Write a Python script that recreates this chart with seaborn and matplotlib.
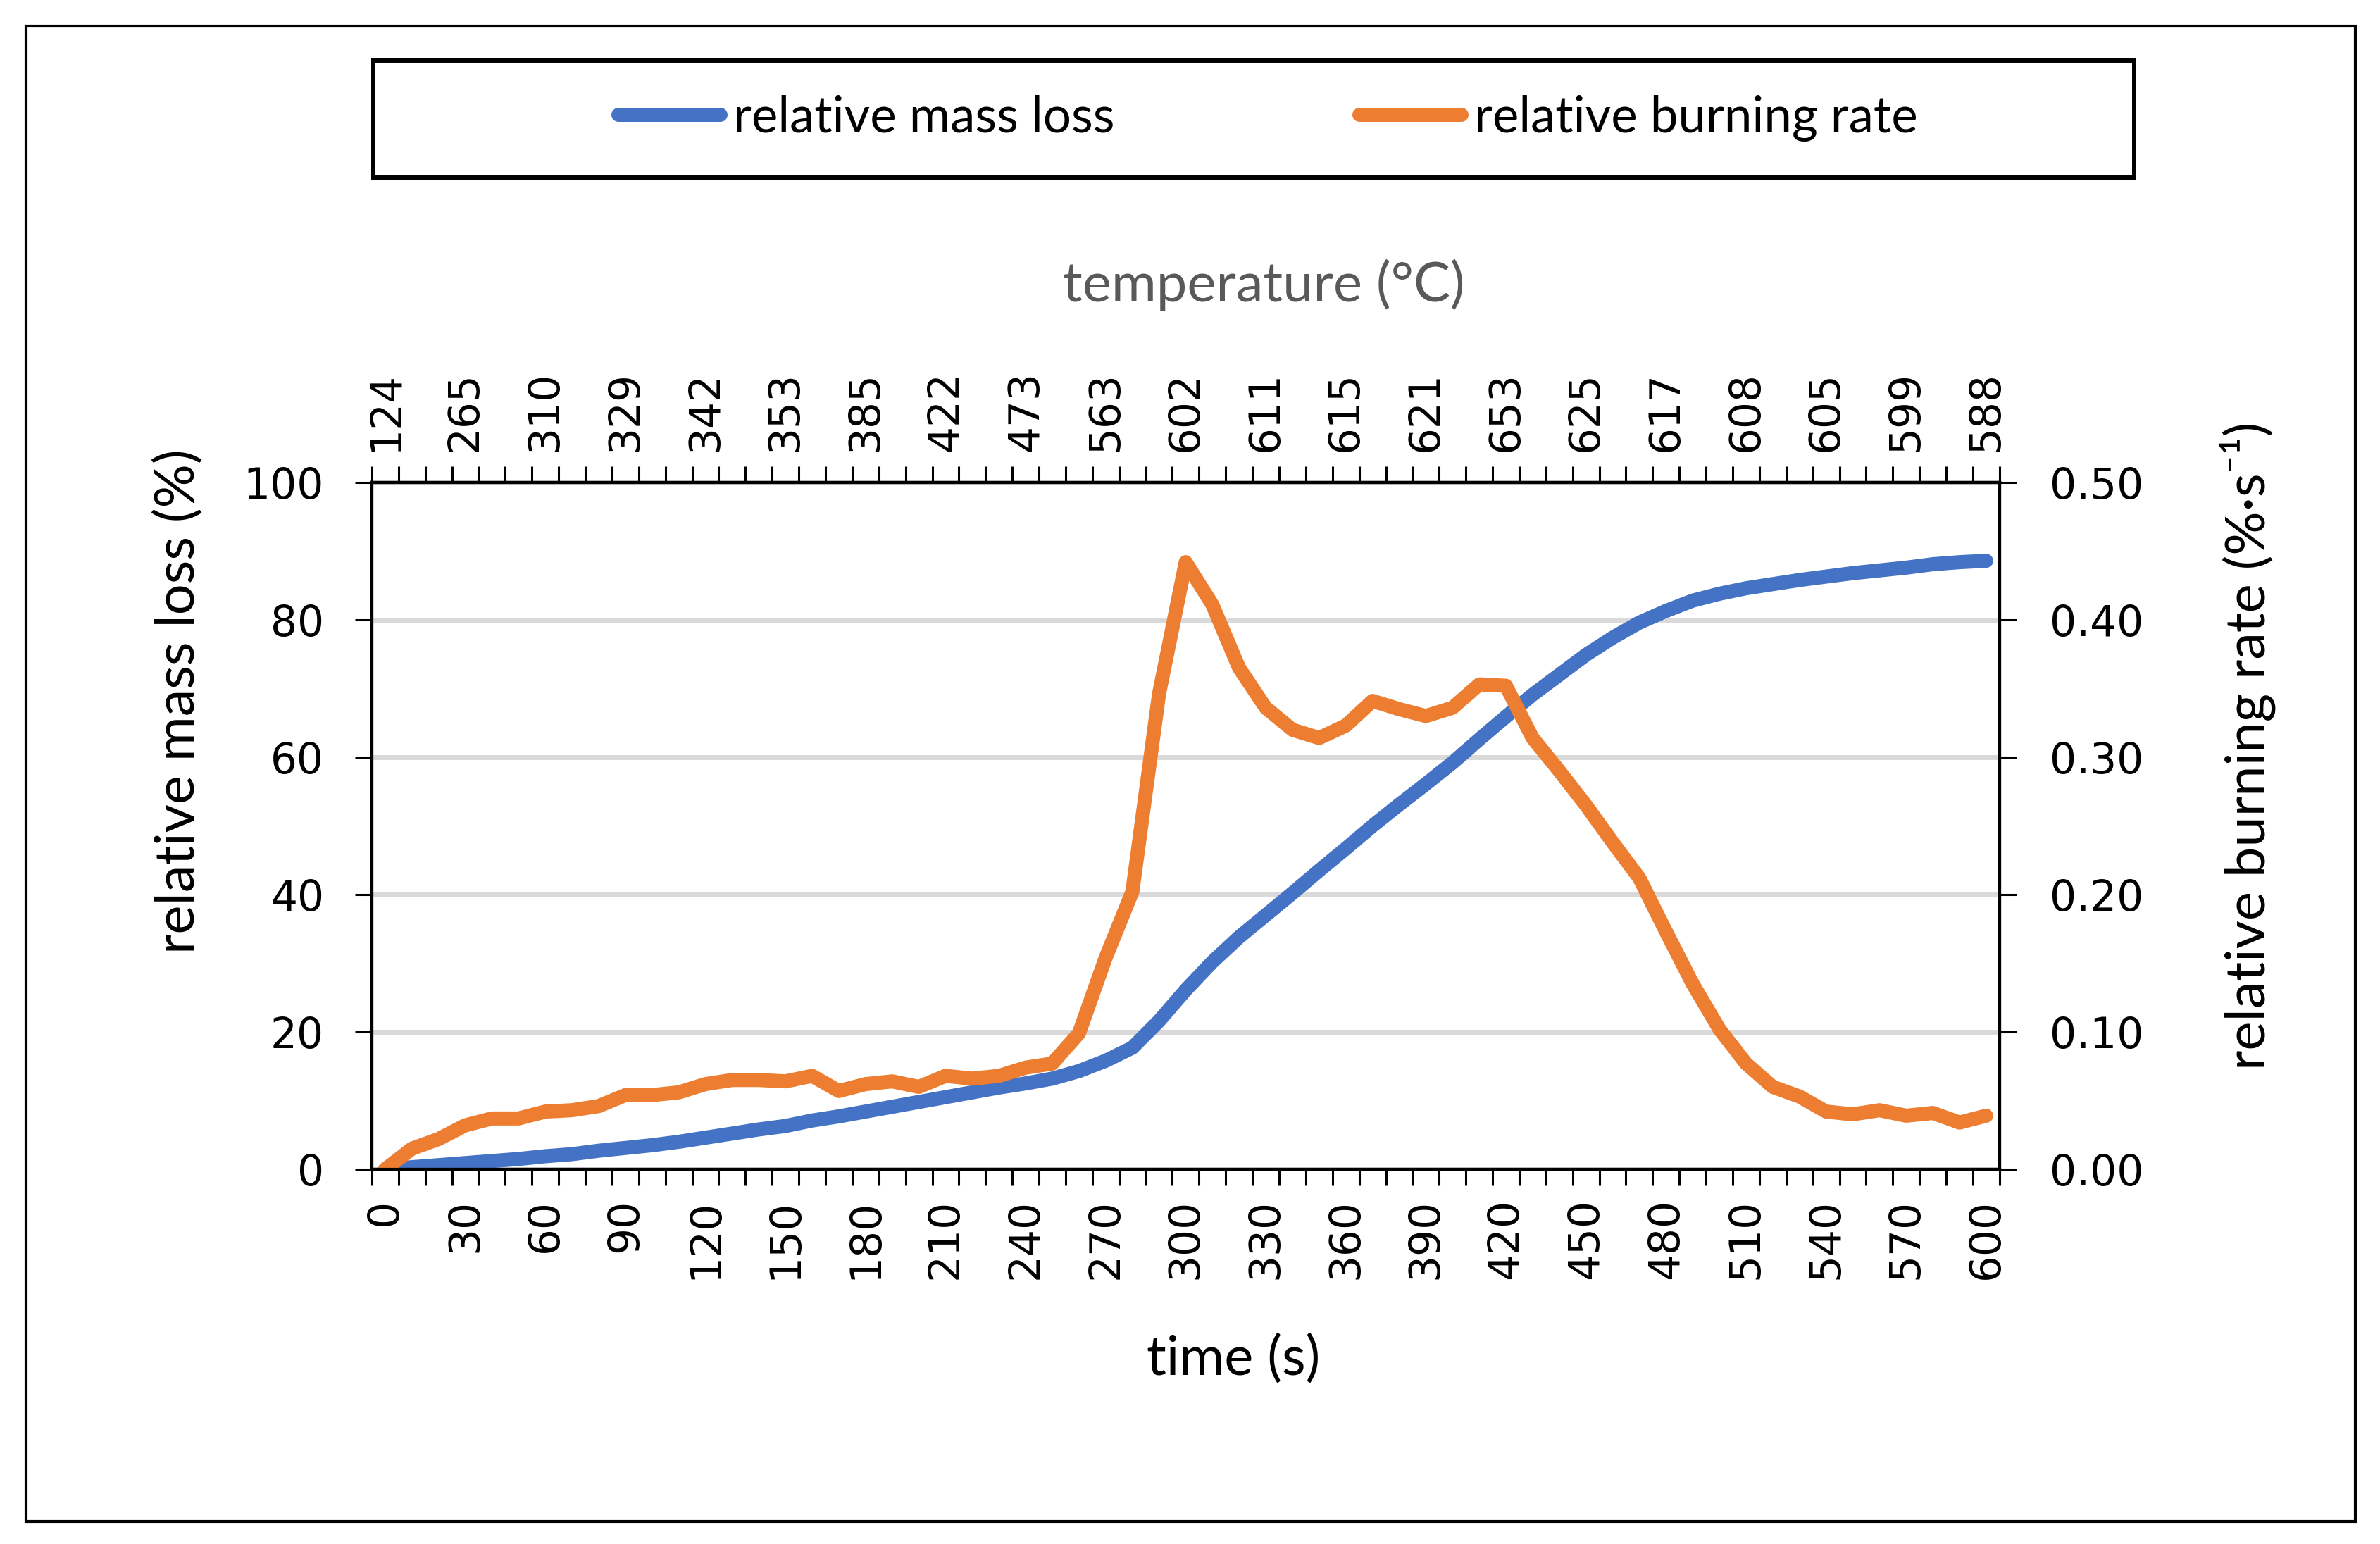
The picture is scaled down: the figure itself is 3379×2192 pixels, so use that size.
import numpy as np
import pandas as pd
import matplotlib.pyplot as plt
import seaborn as sns
from matplotlib.patches import Rectangle

## data (one point every 10 s)

time_s = np.arange(0, 601, 10)

mass_loss = [0.0, 0.3, 0.6, 0.9, 1.2, 1.5, 1.9, 2.2, 2.7, 3.1,
             3.5, 4.0, 4.6, 5.2, 5.8, 6.3, 7.1, 7.7, 8.4, 9.1,
             9.8, 10.5, 11.2, 11.9, 12.5, 13.2, 14.3, 15.8, 17.7, 21.6,
             26.1, 30.2, 33.8, 37.0, 40.2, 43.5, 46.7, 50.0, 53.1, 56.1,
             59.2, 62.6, 65.9, 69.1, 72.0, 74.9, 77.4, 79.6, 81.3, 82.8,
             83.8, 84.6, 85.2, 85.8, 86.3, 86.8, 87.2, 87.6, 88.1, 88.4,
             88.6]

burning_rate = [0.000, 0.015, 0.022, 0.032, 0.037, 0.037, 0.042, 0.043, 0.046, 0.054,
                0.054, 0.056, 0.062, 0.065, 0.065, 0.064, 0.068, 0.057, 0.062, 0.064,
                0.060, 0.068, 0.066, 0.068, 0.074, 0.077, 0.099, 0.154, 0.202, 0.346,
                0.442, 0.411, 0.365, 0.336, 0.320, 0.314, 0.323, 0.341, 0.335, 0.330,
                0.336, 0.353, 0.352, 0.314, 0.290, 0.265, 0.238, 0.212, 0.173, 0.135,
                0.102, 0.077, 0.060, 0.053, 0.042, 0.040, 0.043, 0.039, 0.041, 0.034,
                0.039]

label_times = np.arange(0, 601, 30)
temp_labels = ["124", "265", "310", "329", "342", "353", "385", "422", "473", "563", "602",
               "611", "615", "621", "653", "625", "617", "608", "605", "599", "588"]

left_ticks = [0, 20, 40, 60, 80, 100]
right_ticks = [0.0, 0.1, 0.2, 0.3, 0.4, 0.5]

df = pd.DataFrame({"time": time_s, "mass": mass_loss, "rate": burning_rate})

BLUE = "#4472C4"
ORANGE = "#ED7D31"
TITLE_FONT = ["Lato", "DejaVu Sans"]

sns.set_style("white")
plt.rcParams["font.family"] = ["DejaVu Sans"]
plt.rcParams["text.color"] = "black"
plt.rcParams["xtick.color"] = "black"
plt.rcParams["ytick.color"] = "black"

fig, ax = plt.subplots(figsize=(33.8, 21.92), dpi=100)
fig.subplots_adjust(left=0.1562, right=0.8399, bottom=0.2427, top=0.6875)
ax2 = ax.twinx()

sns.lineplot(data=df, x="time", y="mass", ax=ax, color=BLUE, lw=14.4,
             solid_capstyle="round", solid_joinstyle="round")
sns.lineplot(data=df, x="time", y="rate", ax=ax2, color=ORANGE, lw=14.4,
             solid_capstyle="round", solid_joinstyle="round")

# category style x axis: ticks between points, labels on points
bounds = np.arange(-5, 606, 10)
ax.set_xlim(-5, 605)
ax.set_xticks(label_times, labels=[str(t) for t in label_times])
ax.set_xticks(bounds, minor=True)
ax.tick_params(axis="x", which="major", bottom=True, length=0, pad=30,
               labelsize=43, labelrotation=90, labelcolor="black")
ax.tick_params(axis="x", which="minor", bottom=True, length=16.5, width=2.2,
               direction="out", color="black")

ax.set_ylim(0, 100)
ax.set_yticks(left_ticks)
ax.tick_params(axis="y", left=True, length=17, width=2.2, direction="out",
               pad=32, labelsize=43, color="black", labelcolor="black")
ax.yaxis.grid(True, color="#D9D9D9", lw=5)
ax.xaxis.grid(False)
ax.set_axisbelow(True)
ax.set_xlabel("")
ax.set_ylabel("")

ax2.set_ylim(0, 0.5)
ax2.set_yticks(right_ticks, labels=[f"{v:.2f}" for v in right_ticks])
ax2.tick_params(axis="y", right=True, length=17, width=2.2, direction="out",
                pad=34, labelsize=43, color="black", labelcolor="black")
ax2.grid(False)
ax2.set_ylabel("")

# top axis with temperatures
sec = ax.secondary_xaxis("top")
sec.set_xticks(label_times, labels=temp_labels)
sec.set_xticks(bounds, minor=True)
sec.tick_params(axis="x", which="major", length=0, pad=32, labelsize=43,
                labelrotation=90, labelcolor="black")
sec.tick_params(axis="x", which="minor", length=16.5, width=2.2, direction="out", color="black")

for a in [ax, ax2, sec]:
    for sp in a.spines.values():
        sp.set_visible(True)
        sp.set_color("black")
        sp.set_linewidth(3.0)

# axis titles
fig.text(0.518, 0.1195, "time (s)", ha="center", va="center", fontsize=56,
         family=TITLE_FONT, color="black")
fig.text(0.5308, 0.8152, "temperature (°C)", ha="center", va="center", fontsize=56,
         family=TITLE_FONT, color="#595959")
fig.text(0.0751, 0.5456, "relative mass loss (%)", ha="center", va="center", fontsize=56,
         family=TITLE_FONT, rotation=90, color="black")
fig.text(0.9441, 0.5169, "relative burning rate (%·s⁻¹)", ha="center", va="center",
         fontsize=56, family=TITLE_FONT, rotation=90, color="black")

# legend in its own box above the chart
handles = [ax.lines[0], ax2.lines[0]]
fig.legend(handles, ["relative mass loss", "relative burning rate"], loc="center",
           bbox_to_anchor=(0.5326, 0.9234), ncol=2, frameon=False,
           prop={"family": TITLE_FONT, "size": 51}, labelcolor="black",
           handlelength=2.05, handletextpad=0.25, columnspacing=4.9)
fig.add_artist(Rectangle((0.1568, 0.885), 0.7396, 0.0758, transform=fig.transFigure,
                         fill=False, ec="black", lw=4.3))
fig.add_artist(Rectangle((0.0109, 0.0146), 0.9784, 0.9685, transform=fig.transFigure,
                         fill=False, ec="black", lw=3))

fig.savefig("out.png", dpi=100)
